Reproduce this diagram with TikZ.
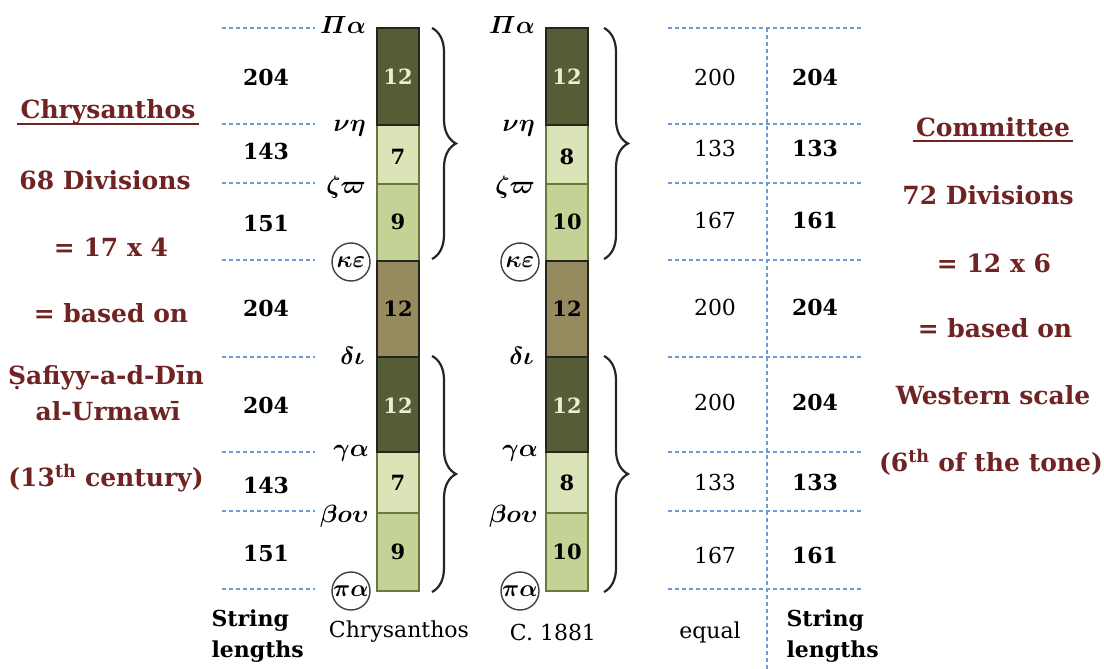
\documentclass[tikz,border=0pt]{standalone}
\usepackage{amsmath}
\usepackage{fontspec}
\setmainfont{DejaVu Serif}
\usetikzlibrary{decorations.pathreplacing}

\definecolor{brownred}{RGB}{112,35,35}
\definecolor{dashblue}{RGB}{110,155,210}
\definecolor{darkolive}{RGB}{85,93,55}
\definecolor{paleolive}{RGB}{218,228,182}
\definecolor{midolive}{RGB}{196,210,150}
\definecolor{khaki}{RGB}{150,138,95}
\definecolor{darkline}{RGB}{35,38,25}
\definecolor{oliveline}{RGB}{105,120,62}
\definecolor{cream}{RGB}{238,236,210}

\newcommand\gk[2]{\scalebox{#1}{\boldmath$#2$}}

\tikzset{
  dashline/.style={dashblue, line width=1.3pt, dash pattern=on 4pt off 3pt},
  lenbold/.style={font=\fontsize{22}{26}\selectfont\bfseries},
  lenreg/.style={font=\fontsize{22}{26}\selectfont},
  barnum/.style={font=\fontsize{21}{25}\selectfont\bfseries},
  tone/.style={anchor=east, inner sep=0pt},
  tonering/.style={circle, draw=black!75, line width=1.4pt, inner sep=0pt,
    minimum size=38pt},
  note/.style={text=brownred, font=\fontsize{25}{30}\selectfont\bfseries},
  caption/.style={font=\fontsize{22}{26}\selectfont},
  segdark/.style={fill=darkolive, draw=darkline, line width=2pt},
  segkhaki/.style={fill=khaki, draw=darkline, line width=2pt},
  segpale/.style={fill=paleolive, draw=oliveline, line width=2pt},
  segmid/.style={fill=midolive, draw=oliveline, line width=2pt},
  bigbrace/.style={decorate, decoration={brace, amplitude=24pt}, line width=2.2pt, black!85},
}

\begin{document}
\begin{tikzpicture}[x=1pt,y=-1pt]
\useasboundingbox (0,0) rectangle (1104,669);

% Штриховые линии
\foreach \y in {28,124,183,260,357,452,511,589}{
  \draw[dashline] (222,\y) -- (315,\y);
  \draw[dashline] (668,\y) -- (862,\y);
}
\draw[dashline] (767,28) -- (767,669);

% Два столбца с делениями
\foreach \bx/\na/\nb/\brx/\bn in {377/7/9/432/chr, 546/8/10/604/com}{
  \pgfmathsetmacro\cx{\bx+21}
  \filldraw[segpale] (\bx,125) rectangle (\bx+42,184);
  \filldraw[segmid] (\bx,184) rectangle (\bx+42,261);
  \filldraw[segpale] (\bx,452) rectangle (\bx+42,513);
  \filldraw[segmid] (\bx,513) rectangle (\bx+42,591);
  \filldraw[segkhaki] (\bx,261) rectangle (\bx+42,357);
  \filldraw[segdark] (\bx,28) rectangle (\bx+42,125);
  \filldraw[segdark] (\bx,357) rectangle (\bx+42,452);

  \node[barnum, text=cream] (\bn-a) at (\cx,77) {12};
  \node[barnum] (\bn-b) at (\cx,157) {\na};
  \node[barnum] (\bn-c) at (\cx,222) {\nb};
  \node[barnum] (\bn-d) at (\cx,309) {12};
  \node[barnum, text=cream] (\bn-e) at (\cx,406) {12};
  \node[barnum] (\bn-f) at (\cx,483) {\na};
  \node[barnum] (\bn-g) at (\cx,552) {\nb};

  % Названия ступеней
  \node[tone] (\bn-pa) at (\bx-11,25) {\gk{2.5}{\varPi\alpha}};
  \node[tone] (\bn-ni) at (\bx-11,128) {\gk{2.5}{\nu\eta}};
  \node[tone] (\bn-zo) at (\bx-11,187) {\gk{2.5}{\zeta\varpi}};
  \node[tonering] (\bn-ke) at (\bx-26,262) {\gk{2.4}{\kappa\varepsilon}};
  \node[tone] (\bn-di) at (\bx-12,356) {\gk{2.5}{\delta\iota}};
  \node[tone] (\bn-ga) at (\bx-8,453) {\gk{2.5}{\gamma\alpha}};
  \node[tone] (\bn-vu) at (\bx-8,516) {\gk{2.5}{\beta o\upsilon}};
  \node[tonering] (\bn-low) at (\bx-26,591) {\gk{2.4}{\pi\alpha}};

  % Скобки
  \draw[bigbrace] (\brx,28) -- (\brx,259);
  \draw[bigbrace] (\brx,356) -- (\brx,592);
}

% Длины струн слева
\foreach \y/\v [count=\i] in {77/204,151/143,223/151,308/204,405/204,485/143,553/151}
  \node[lenbold] (sl\i) at (266,\y) {\v};

% Длины струн справа
\foreach \y/\v/\w [count=\i] in {77/200/204,148/133/133,220/167/161,307/200/204,
    402/200/204,482/133/133,555/167/161}{
  \node[lenreg] (eq\i) at (715,\y) {\v};
  \node[lenbold] (sr\i) at (815,\y) {\w};
}

% Подписи внизу
\node[caption, font=\fontsize{22}{31}\selectfont\bfseries, align=left, anchor=west]
  (strl) at (208,636) {String\\lengths};
\node[caption] (chrcap) at (399,632) {Chrysanthos};
\node[caption] (c1881) at (553,632) {C. 1881};
\node[caption] (eqcap) at (710,632) {equal};
\node[caption, font=\fontsize{22}{31}\selectfont\bfseries, align=left, anchor=west]
  (strr) at (783,636) {String\\lengths};

% Текст слева
\node[note] (chrt) at (108,112) {Chrysanthos};
\draw[brownred, line width=1.8pt] ([yshift=-5pt]chrt.base west) -- ([yshift=-5pt]chrt.base east);
\node[note] (l1) at (105,180) {68 Divisions};
\node[note] (l2) at (111,247) {= 17 x 4};
\node[note] (l3) at (111,313) {= based on};
\node[note] (l4) at (106,378) {Ṣafiyy-a-d-Dīn};
\node[note] (l5) at (108,411) {al-Urmawī};
\node[note] (l6) at (106,478) {(13\textsuperscript{th} century)};

% Текст справа
\node[note] (comt) at (993,127) {Committee};
\draw[brownred, line width=1.8pt] ([yshift=-5pt]comt.base west) -- ([yshift=-5pt]comt.base east);
\node[note] (r1) at (988,195) {72 Divisions};
\node[note] (r2) at (994,263) {= 12 x 6};
\node[note] (r3) at (995,328) {= based on};
\node[note] (r4) at (993,395) {Western scale};
\node[note] (r5) at (991,462) {(6\textsuperscript{th} of the tone)};
\end{tikzpicture}
\end{document}
